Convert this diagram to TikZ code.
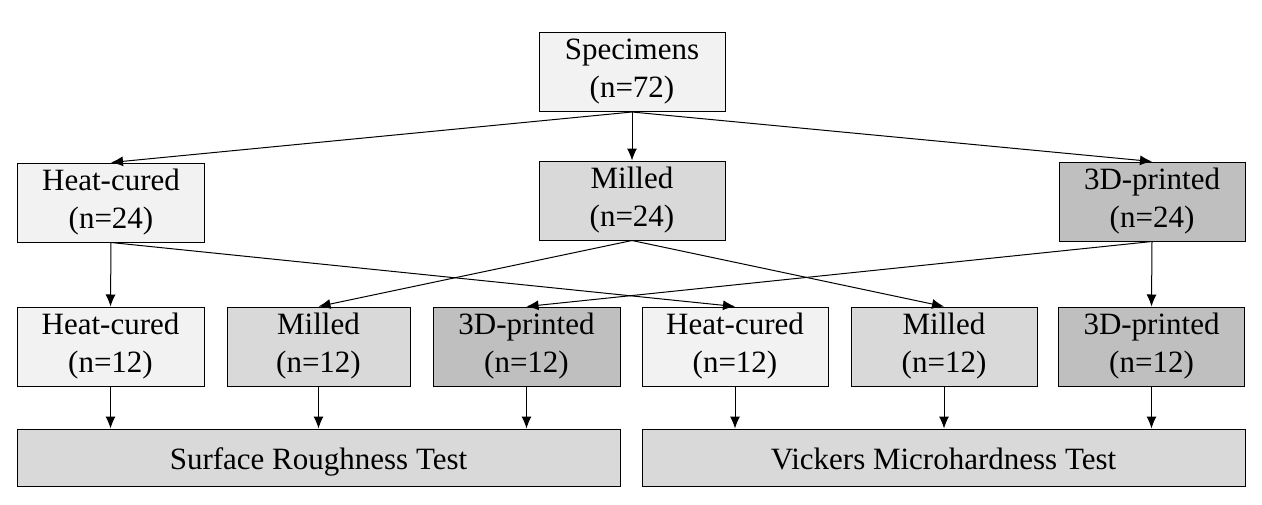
\documentclass[tikz,border=0pt]{standalone}
\usepackage{fontspec}
\setmainfont{Liberation Serif}
\usetikzlibrary{arrows.meta}
\definecolor{fillA}{HTML}{F2F2F2}
\definecolor{fillB}{HTML}{D9D9D9}
\definecolor{fillC}{HTML}{BFBFBF}
\begin{document}
\begin{tikzpicture}[x=1pt,y=-1pt,
  box/.style={draw=black, line width=1pt, rectangle, inner sep=0pt, align=center,
    font=\fontsize{31}{38}\selectfont, minimum width=187pt, minimum height=79pt},
  lightbox/.style={box, fill=fillA},
  midbox/.style={box, fill=fillB},
  darkbox/.style={box, fill=fillC},
  testbox/.style={box, fill=fillB, minimum width=603pt, minimum height=57pt,
    text height=25pt, text depth=1pt},
  arr/.style={draw=black, line width=1pt, -{Latex[length=12pt,width=10pt]}}]
\useasboundingbox (0,0) rectangle (1262,504);
% top
\node[lightbox, minimum width=186pt] (spec) at (632,72) {Specimens\\(n=72)};
% second row
\node[lightbox] (hc) at (111,202.5) {Heat-cured\\(n=24)};
\node[midbox, minimum width=186pt] (mi) at (632,200.5) {Milled\\(n=24)};
\node[darkbox, minimum width=186pt] (pr) at (1152,201.5) {3D-printed\\(n=24)};
% third row
\node[lightbox] (hc1) at (110.5,346.5) {Heat-cured\\(n=12)};
\node[midbox, minimum width=183pt] (mi1) at (318.5,346.5) {Milled\\(n=12)};
\node[darkbox] (pr1) at (526.5,346.5) {3D-printed\\(n=12)};
\node[lightbox, minimum width=186pt] (hc2) at (735,346.5) {Heat-cured\\(n=12)};
\node[midbox, minimum width=186pt] (mi2) at (944,346.5) {Milled\\(n=12)};
\node[darkbox, minimum width=186pt] (pr2) at (1151.5,346.5) {3D-printed\\(n=12)};
% tests
\node[testbox] (srt) at (318.5,457.5) {Surface Roughness Test};
\node[testbox] (vmt) at (943.5,457.5) {Vickers Microhardness Test};
% connectors
\draw[arr] (spec.south) -- (hc.north);
\draw[arr] (spec.south) -- (mi.north);
\draw[arr] (spec.south) -- (pr.north);
\draw[arr] (hc.south) -- (hc1.north);
\draw[arr] (hc.south) -- (hc2.north);
\draw[arr] (mi.south) -- (mi1.north);
\draw[arr] (mi.south) -- (mi2.north);
\draw[arr] (pr.south) -- (pr1.north);
\draw[arr] (pr.south) -- (pr2.north);
\draw[arr] (hc1.south) -- (hc1.south |- srt.north);
\draw[arr] (mi1.south) -- (mi1.south |- srt.north);
\draw[arr] (pr1.south) -- (pr1.south |- srt.north);
\draw[arr] (hc2.south) -- (hc2.south |- vmt.north);
\draw[arr] (mi2.south) -- (mi2.south |- vmt.north);
\draw[arr] (pr2.south) -- (pr2.south |- vmt.north);
\end{tikzpicture}
\end{document}
